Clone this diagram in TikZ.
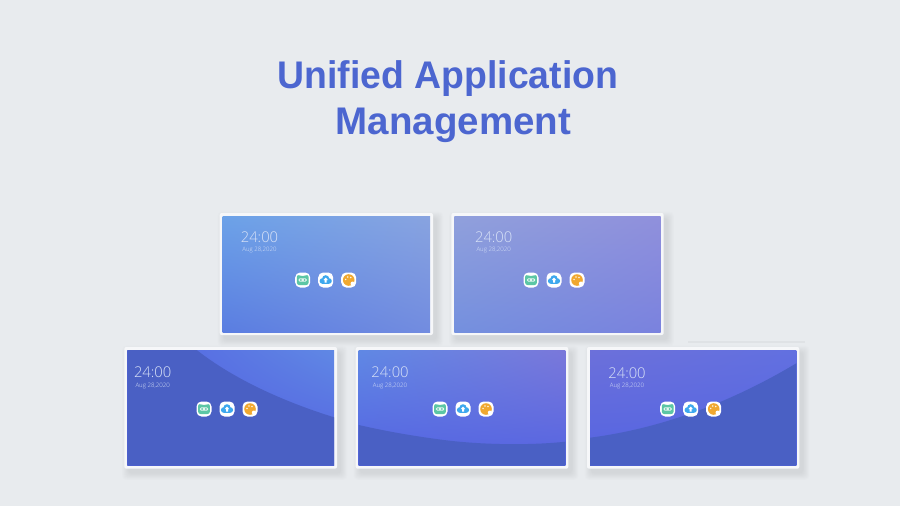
\documentclass[tikz,border=0pt]{standalone}
\usepackage{fontspec}
\setmainfont{Liberation Sans}
\newfontfamily\lightf{Open Sans Light}
\usetikzlibrary{shadings}
\definecolor{bgc}{RGB}{232,235,238}
\definecolor{titlec}{RGB}{76,102,208}
\definecolor{basec}{RGB}{74,96,196}
\definecolor{timec}{RGB}{216,226,247}
\definecolor{icgreen}{RGB}{92,198,165}
\definecolor{icblue}{RGB}{62,168,238}
\definecolor{icorange}{RGB}{240,168,48}
\definecolor{aLL}{RGB}{90,125,225}\definecolor{aUL}{RGB}{108,162,232}\definecolor{aUR}{RGB}{136,163,224}\definecolor{aLR}{RGB}{114,140,224}
\definecolor{bLL}{RGB}{116,144,222}\definecolor{bUL}{RGB}{144,160,220}\definecolor{bUR}{RGB}{144,144,220}\definecolor{bLR}{RGB}{122,130,222}
\definecolor{waveA}{RGB}{84,98,226}\definecolor{waveB}{RGB}{84,100,226}\definecolor{waveC}{RGB}{96,136,228}
\definecolor{waveD}{RGB}{122,120,218}\definecolor{waveE}{RGB}{108,112,218}\definecolor{waveF}{RGB}{98,112,224}
\tikzset{
  x=1pt,y=-1pt,
  titletext/.style={font=\bfseries\fontsize{38.5}{40}\selectfont,text=titlec,inner sep=0pt,anchor=base},
  timetext/.style={font=\lightf\fontsize{14.8}{16}\selectfont,text=timec,inner sep=0pt},
  datetext/.style={font=\lightf\fontsize{6.1}{7}\selectfont,text=timec,inner sep=0pt},
  iconbox/.style={fill=white,rounded corners=5pt},
  framebox/.style={fill=white!62!bgc,rounded corners=2pt}
}
% frame with soft shadow: x0 y0 x1 y1 of the screen
\newcommand{\panelframe}[4]{%
  \foreach \s in {9,8,7,6,5,4,3,2,1,0}{%
    \fill[black,opacity=0.009,rounded corners=4pt]
      ({#1-3+4-\s*0.7},{#2-3+5-\s*0.7}) rectangle ({#3+3+4+\s*0.7},{#4+3+5+\s*0.7});
  }%
  \fill[framebox] ({#1-3},{#2-3}) rectangle ({#3+3},{#4+3});
}
% icons centred at x1, x2, x3 in row y
\newcommand{\iconset}[4]{%
  \begin{scope}[shift={(#1,#4)}]
    \fill[iconbox] (-7.5,-7.5) rectangle (7.5,7.5);
    \fill[icgreen,rounded corners=2.2pt] (-5.8,-5.4) -- (-2.4,-4) -- (2.4,-4) -- (5.8,-5.4) -- (5.8,5) -- (-5.8,5) -- cycle;
    \fill[white!85!icgreen,rounded corners=1.4pt] (-4.2,-1.7) rectangle (4.2,1.7);
    \fill[icgreen] (-1.8,0) circle (1) (1.8,0) circle (1);
  \end{scope}
  \begin{scope}[shift={(#2,#4)}]
    \fill[iconbox] (-7.5,-7.5) rectangle (7.5,7.5);
    \fill[icblue] (0,-1.2) circle (3.6) (-3.3,1) circle (2.8) (3.3,1) circle (2.8);
    \fill[icblue] (-3.3,0.5) rectangle (3.3,3.8);
    \fill[white] (0,-2.4) -- (2.2,0) -- (1,0) -- (1,2.6) -- (-1,2.6) -- (-1,0) -- (-2.2,0) -- cycle;
  \end{scope}
  \begin{scope}[shift={(#3,#4)}]
    \fill[iconbox] (-7.5,-7.5) rectangle (7.5,7.5);
    \fill[icorange] (0,0) circle (5.8);
    \fill[white] (3.9,3.6) circle (2.1);
    \fill[white,opacity=0.85] (-1,-3) circle (.85) (2,-2.5) circle (.85) (-3,-.6) circle (.85);
  \end{scope}
}
\newcommand{\clock}[5]{% id, cx, ytime, ydate
  \node[timetext] (time#1) at (#2,#3) {24:00};
  \node[datetext] (date#1) at (#2,#4) {#5};
}
\begin{document}
\begin{tikzpicture}
\useasboundingbox (0,0) rectangle (900,506);
\fill[bgc] (0,0) rectangle (900,506);
\node[titletext] (title1) at (448,88) {\scalebox{0.971}[1]{Unified Application}};
\node[titletext] (title2) at (453.5,134.5) {Management};

% faint line at top of the right panel
\fill[black,opacity=0.035] (688,341.4) rectangle (805,342.6);

% ---------- top left
\panelframe{222.7}{216}{430}{332}
\shade[lower left=aLL,upper left=aUL,upper right=aUR,lower right=aLR]
  (222.7,216) rectangle (430,332);
\clock{a}{259.5}{237.7}{250.3}{Aug 28,2020}
\iconset{302.7}{325.7}{348.7}{280}

% ---------- top right
\panelframe{454.3}{216}{660.7}{332}
\shade[lower left=bLL,upper left=bUL,upper right=bUR,lower right=bLR]
  (454.3,216) rectangle (660.7,332);
\clock{b}{493.7}{237.7}{250.3}{Aug 28,2020}
\iconset{531}{554}{577}{280}

% ---------- bottom left
\panelframe{127.3}{350}{334}{465.7}
\shade[lower left=waveA,upper left=waveB,upper right=waveC,lower right=waveA]
  (127.3,350) rectangle (334,465.7);
\fill[basec] (127.3,350) -- (196.7,350) .. controls (235,380) and (285,402) .. (334,417.3) -- (334,465.7) -- (127.3,465.7) -- cycle;
\clock{c}{152.7}{372.7}{385.7}{Aug 28,2020}
\iconset{204}{227}{250}{409}

% ---------- bottom middle
\panelframe{358.7}{350}{565.3}{465.7}
\shade[lower left=waveA,upper left=waveC,upper right=waveD,lower right=waveB]
  (358.7,350) rectangle (565.3,465.7);
\fill[basec] (565.3,441.7) .. controls (530,445.5) and (480,445) .. (440,439.5) .. controls (410,435.5) and (385,431) .. (358.7,425) -- (358.7,465.7) -- (565.3,465.7) -- cycle;
\clock{d}{390}{372.7}{385.7}{Aug 28,2020}
\iconset{440}{463}{486}{409}

% ---------- bottom right
\panelframe{590}{350}{796.3}{465.7}
\shade[lower left=waveB,upper left=waveE,upper right=waveF,lower right=waveB]
  (590,350) rectangle (796.3,465.7);
\fill[basec] (796.3,363.3) .. controls (735,400) and (665,428) .. (590,437.7) -- (590,465.7) -- (796.3,465.7) -- cycle;
\clock{e}{627}{373}{385.7}{Aug 28,2020}
\iconset{667.7}{690.7}{713.7}{409}
\end{tikzpicture}
\end{document}
